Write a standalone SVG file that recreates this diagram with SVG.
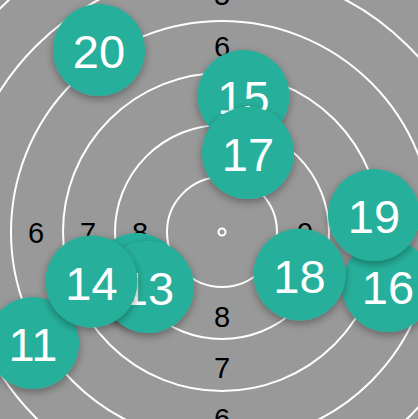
<svg xmlns="http://www.w3.org/2000/svg" width="418" height="419" viewBox="0 0 418 419">
<defs>
<style>
.ring{fill:none;stroke:#ffffff;stroke-width:2}
.lbl{font-family:"Liberation Sans",Arial,sans-serif;font-size:29px;fill:#000000;text-anchor:middle}
.node circle{fill:#27b09b;filter:url(#sh)}
.node text{font-family:"Liberation Sans",Arial,sans-serif;font-size:47px;fill:#ffffff;text-anchor:middle}
</style>
<filter id="sh" x="-40%" y="-40%" width="180%" height="180%">
<feDropShadow dx="0" dy="3" stdDeviation="4" flood-color="#000000" flood-opacity="0.35"/>
</filter>
</defs>
<rect x="0" y="0" width="418" height="419" fill="#999999"/>
<g id="target">
<circle class="ring" cx="222" cy="232" r="55"/>
<circle class="ring" cx="222" cy="232" r="107"/>
<circle class="ring" cx="222" cy="232" r="159"/>
<circle class="ring" cx="222" cy="232" r="211"/>
<circle class="ring" cx="222" cy="232" r="263"/>
<circle class="ring" cx="222" cy="232" r="315"/>
<circle cx="222" cy="232" r="3.5" fill="none" stroke="#ffffff" stroke-width="2"/>
</g>
<g id="labels">
<text class="lbl" x="36" y="243">6</text>
<text class="lbl" x="88" y="243">7</text>
<text class="lbl" x="140" y="243">8</text>
<text class="lbl" x="305" y="243">9</text>
<text class="lbl" x="222" y="327">8</text>
<text class="lbl" x="222" y="378">7</text>
<text class="lbl" x="222" y="429">6</text>
<text class="lbl" x="222" y="57">6</text>
<text class="lbl" x="222" y="5">5</text>
</g>
<g id="connectors"></g>
<g id="node-20" class="node"><circle cx="99" cy="50" r="46"/><text x="99" y="68">20</text></g>
<g id="node-15" class="node"><circle cx="243.5" cy="96" r="46"/><text x="243.5" y="114">15</text></g>
<g id="node-17" class="node"><circle cx="248" cy="153" r="46"/><text x="248" y="171">17</text></g>
<g id="node-16" class="node"><circle cx="388" cy="286" r="46"/><text x="388" y="304">16</text></g>
<g id="node-19" class="node"><circle cx="374" cy="215" r="46"/><text x="374" y="233">19</text></g>
<g id="node-18" class="node"><circle cx="299.5" cy="274.5" r="46"/><text x="299.5" y="292.5">18</text></g>
<g id="node-11" class="node"><circle cx="33" cy="343" r="46"/><text x="33" y="361">11</text></g>
<g id="node-hidden" class="node"><circle cx="137" cy="279" r="46"/></g>
<g id="node-13" class="node"><circle cx="148" cy="287" r="46"/><text x="148" y="305">13</text></g>
<g id="node-14" class="node"><circle cx="91.5" cy="281.5" r="46"/><text x="91.5" y="299.5">14</text></g>
</svg>
